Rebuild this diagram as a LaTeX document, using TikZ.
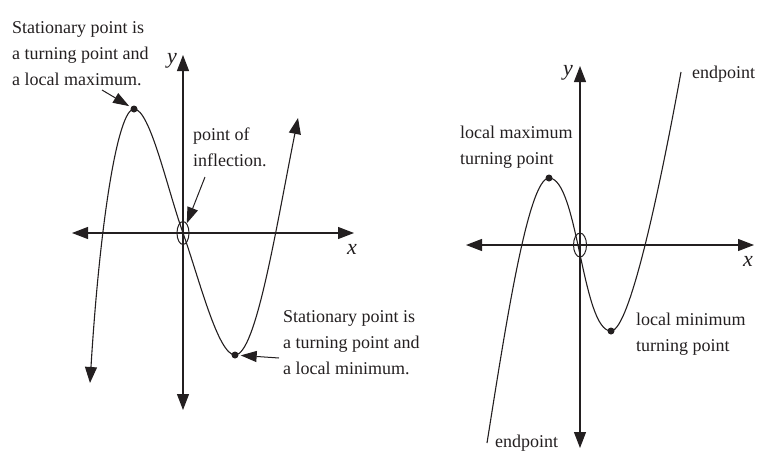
\documentclass[tikz,border=0pt]{standalone}
\usepackage{fontspec}
\setmainfont{Liberation Serif}
\usetikzlibrary{arrows.meta,shapes.geometric}
\definecolor{ink}{HTML}{231F20}
\tikzset{
  axisline/.style={line width=1.1pt, draw=ink, {Triangle[length=16pt,width=12pt]}-{Triangle[length=16pt,width=12pt]}},
  curveline/.style={line width=1.1pt, draw=ink},
  bothtips/.style={{Triangle[length=16pt,width=12pt]}-{Triangle[length=16pt,width=12pt]}},
  pointer/.style={line width=1pt, draw=ink, -{Triangle[length=16pt,width=11pt]}},
  dotnode/.style={circle, fill=ink, inner sep=0pt, minimum size=7pt},
  ring/.style={ellipse, draw=ink, line width=1pt, inner sep=0pt},
  lbl/.style={anchor=north west, inner sep=0pt, align=left, text=ink, font=\fontsize{18}{26}\selectfont},
  axlbl/.style={inner sep=0pt, text=ink, font=\fontsize{22}{26}\selectfont\itshape},
}
\begin{document}
\begin{tikzpicture}[x=1pt,y=-1pt]
\useasboundingbox (0,0) rectangle (760,450);

% ---------- left graph ----------
\coordinate (Lxl) at (72,233);
\coordinate (Lxr) at (354,233);
\coordinate (Lyt) at (183,55);
\coordinate (Lyb) at (183,410);
\draw[axisline] (Lxl) -- (Lxr);
\draw[axisline] (Lyt) -- (Lyb);
\node[axlbl] (Lx) at (352,249) {x};
\node[axlbl] (Ly) at (172,61) {y};

\coordinate (LA) at (90,383);
\coordinate (LM) at (134,109);
\coordinate (LI) at (183,233);
\coordinate (LN) at (235,355);
\coordinate (LB) at (298,118);
\draw[curveline, bothtips]
  (LA) .. controls (100,220) and (118,109) .. (LM)
       .. controls (150,109) and (167,188) .. (LI)
       .. controls (199,278) and (218,355) .. (LN)
       .. controls (256,355) and (276,228) .. (LB);

\node[dotnode] (maxL) at (LM) {};
\node[dotnode] (minL) at (LN) {};
\node[ring, minimum width=12pt, minimum height=23pt] (e1) at (LI) {};

\node[lbl] (t1) at (12,14.8) {\strut Stationary point is\\a turning point and\\a local maximum.};
\node[lbl] (t2) at (193,121.8) {\strut point of\\inflection.};
\node[lbl] (t3) at (283,303.8) {\strut Stationary point is\\a turning point and\\a local minimum.};

\coordinate (p1) at (102,90);
\coordinate (p2) at (205,177);
\coordinate (p3) at (279,358);
\draw[pointer, shorten >=2pt] (p1) -- (maxL);
\draw[pointer] (p2) -- (e1);
\draw[pointer, shorten >=2pt] (p3) -- (minL);

% ---------- right graph ----------
\coordinate (Rxl) at (466,245);
\coordinate (Rxr) at (754,245);
\coordinate (Ryt) at (580,66);
\coordinate (Ryb) at (580,448);
\draw[axisline] (Rxl) -- (Rxr);
\draw[axisline] (Ryt) -- (Ryb);
\node[axlbl] (Rx) at (748,261) {x};
\node[axlbl] (Ry) at (568,73) {y};

\coordinate (RA) at (487,443);
\coordinate (RM) at (549,178);
\coordinate (RN) at (611,331);
\coordinate (RB) at (681,72);
\draw[curveline]
  (RA) .. controls (505,330) and (528,178) .. (RM)
       .. controls (578,178) and (582,331) .. (RN)
       .. controls (630,331) and (661,182) .. (RB);

\node[dotnode] (maxR) at (RM) {};
\node[dotnode] (minR) at (RN) {};
\node[ring, minimum width=13pt, minimum height=24pt] (e2) at (580,245) {};

\node[lbl] (r1) at (692,59.8) {\strut endpoint};
\node[lbl] (r2) at (460,119.8) {\strut local maximum\\turning point};
\node[lbl] (r3) at (636,306.8) {\strut local minimum\\turning point};
\node[lbl] (r4) at (495,428.8) {\strut endpoint};
\end{tikzpicture}
\end{document}
